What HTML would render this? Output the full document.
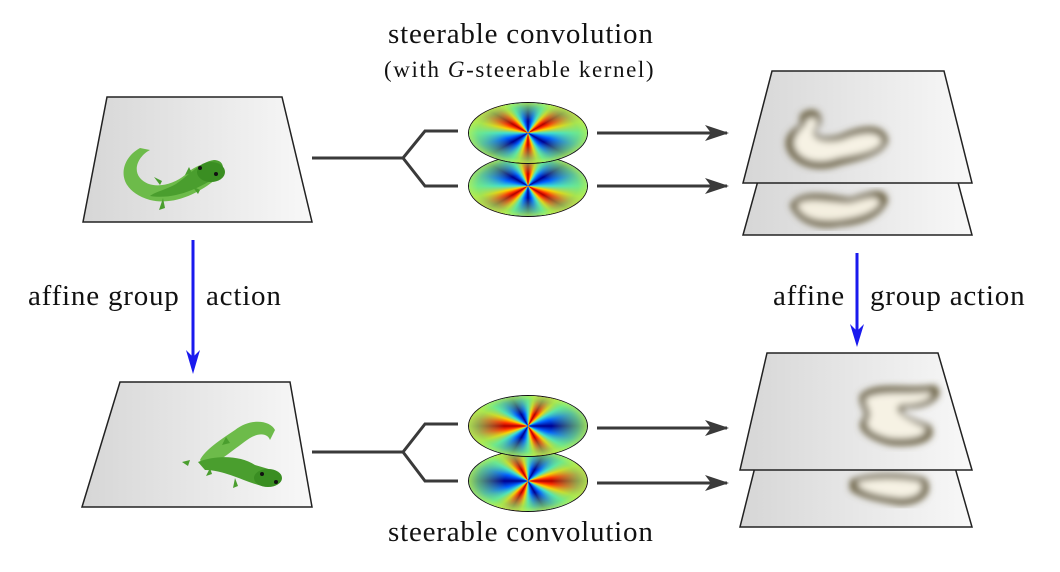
<!DOCTYPE html>
<html><head><meta charset="utf-8"><style>
body{margin:0;width:1060px;height:572px;background:#fff;position:relative;overflow:hidden;font-family:"Liberation Serif",serif;}
.t{position:absolute;font-size:29px;letter-spacing:0.8px;color:#111;white-space:nowrap;}
.k{position:absolute;width:120px;height:62px;border-radius:50%;border:1.5px solid #111;box-sizing:border-box;overflow:hidden;}
.k div{position:absolute;inset:0;}
.k .g{background:radial-gradient(ellipse closest-side,rgba(120,230,120,0) 0%,rgba(120,230,120,0) 40%,rgba(130,235,110,0.7) 85%,rgba(170,240,90,0.9) 100%);}
</style></head><body>
<svg width="1060" height="572" style="position:absolute;left:0;top:0">
<defs>
<linearGradient id="pg" x1="0" y1="0" x2="1" y2="0"><stop offset="0" stop-color="#d6d6d6"/><stop offset="1" stop-color="#f8f8f8"/></linearGradient>
<filter id="bl"><feGaussianBlur stdDeviation="3.5"/></filter>
<marker id="ah" markerWidth="24" markerHeight="16" refX="22" refY="8" orient="auto" markerUnits="userSpaceOnUse"><path d="M0,0 L24,8 L0,16 L6,8z" fill="#3a3a3a"/></marker>
</defs>
<polygon points="107,97 282,97 312,222 83,222" fill="url(#pg)" stroke="#222" stroke-width="1.5"/>
<polygon points="120,382 290,382 312,507 82,507" fill="url(#pg)" stroke="#222" stroke-width="1.5"/>
<!-- lizard top -->
<g fill="#4a9e2e">
<path d="M140,148 C118,160 115,190 150,200 C175,206 200,192 215,180 L222,170 C212,158 195,165 185,175 C172,186 150,190 140,178 C132,168 140,155 150,150Z" fill="#6dbb4a"/>
<path d="M150,196 C175,200 200,188 218,176 C226,170 224,160 214,160 C200,162 188,176 176,184 C165,190 155,192 150,196Z"/>
<ellipse cx="211" cy="172" rx="14" ry="10" fill="#3a8e22"/>
<circle cx="200" cy="168" r="2" fill="#111"/><circle cx="216" cy="174" r="2" fill="#111"/>
<path d="M160,185 l-6,-8 l8,4z M185,175 l4,-8 l3,6z M192,186 l8,4 l-2,4z M163,198 l2,10 l-6,2z"/>
</g>
<!-- lizard bottom -->
<g fill="#4a9e2e">
<path d="M275,430 C270,420 250,418 235,430 C220,440 205,450 200,460 L205,468 C220,462 235,448 250,438 C260,432 268,434 270,440Z" fill="#6dbb4a"/>
<path d="M198,462 C215,455 240,455 255,465 L272,470 C280,480 275,488 262,486 C245,482 225,470 205,470Z"/>
<ellipse cx="268" cy="478" rx="14" ry="9" fill="#3a8e22"/>
<circle cx="262" cy="474" r="2" fill="#111"/><circle cx="276" cy="482" r="2" fill="#111"/>
<path d="M190,460 l-8,2 l6,4z M222,445 l4,-8 l4,6z M235,478 l-2,10 l5,-2z M210,468 l-4,8 l6,-2z"/>
</g>
<!-- right planes top -->
<polygon points="772,130 944,130 972,235 743,235" fill="url(#pg)" stroke="#222" stroke-width="1.5"/>
<g filter="url(#bl)"><path d="M790,205 C800,188 830,195 850,198 C870,192 885,185 888,200 C882,218 860,225 840,226 C820,230 798,225 790,205Z" fill="#6a6040"/><path d="M797,205 C806,196 830,203 850,203 C868,198 878,194 880,203 C873,214 855,218 838,220 C818,222 802,218 797,205Z" fill="#f4efe0"/></g>
<polygon points="772,71 944,71 972,183 743,183" fill="url(#pg)" stroke="#222" stroke-width="1.5"/>
<g filter="url(#bl)"><path d="M800,115 C810,105 825,110 820,125 C810,135 820,140 840,135 C860,125 885,122 888,140 C885,155 860,160 840,165 C820,172 800,168 790,155 C780,140 790,130 800,125Z" fill="#6a6040"/><path d="M806,120 C814,115 820,118 815,128 C808,138 822,145 842,140 C862,132 880,130 882,142 C876,152 858,154 838,158 C818,165 802,160 796,150 C790,140 798,132 806,124Z" fill="#f6f2e4"/></g>
<!-- right planes bottom -->
<polygon points="768,415 940,415 972,527 740,527" fill="url(#pg)" stroke="#222" stroke-width="1.5"/>
<g filter="url(#bl)"><path d="M850,480 C870,472 900,472 925,478 C935,490 925,505 900,505 C880,502 860,498 850,490Z" fill="#6a6040"/><path d="M858,482 C875,478 900,478 920,482 C925,490 918,498 900,498 C880,496 864,492 858,486Z" fill="#f6f2e4"/></g>
<polygon points="767,353 938,353 972,470 740,470" fill="url(#pg)" stroke="#222" stroke-width="1.5"/>
<g filter="url(#bl)"><path d="M860,395 C875,380 905,390 935,385 C948,395 930,410 905,408 C895,412 915,420 930,425 C940,440 920,448 890,445 C870,440 855,430 862,420 C870,412 858,408 860,395Z" fill="#6a6040"/><path d="M866,398 C880,390 905,395 930,392 C935,398 920,405 902,404 C888,410 908,420 925,428 C928,436 912,440 890,438 C874,434 864,428 868,420 C874,412 864,405 866,398Z" fill="#f6f2e4"/></g>
<g stroke="#3a3a3a" stroke-width="3" fill="none">
<polyline points="312,158 403,158 425,131 458,131"/>
<polyline points="403,158 425,186 458,186"/>
<polyline points="312,452 403,452 425,424 458,424"/>
<polyline points="403,452 425,481 458,481"/>
<line x1="597" y1="133" x2="727" y2="133" marker-end="url(#ah)"/>
<line x1="597" y1="186" x2="727" y2="186" marker-end="url(#ah)"/>
<line x1="597" y1="428" x2="727" y2="428" marker-end="url(#ah)"/>
<line x1="597" y1="483" x2="727" y2="483" marker-end="url(#ah)"/>
</g>
<g stroke="#1a1aee" stroke-width="3">
<line x1="193" y1="240" x2="193" y2="366"/>
<line x1="857" y1="253" x2="857" y2="340"/>
</g>
<path d="M193,374 L186,350 L193,357 L200,350Z" fill="#1a1aee"/>
<path d="M857,347 L850,324 L857,331 L864,324Z" fill="#1a1aee"/>
</svg>
<div class="k" style="left:468px;top:155px"><div style="background:repeating-conic-gradient(from 240deg,#b00000 0deg,#ff3000 8deg,#ffd000 18deg,#40e0d0 30deg,#0060ff 44deg,#00008f 60deg,#0060ff 76deg,#40e0d0 90deg,#ffd000 102deg,#ff3000 112deg,#b00000 120deg)"></div><div class="g"></div></div>
<div class="k" style="left:468px;top:102px"><div style="background:repeating-conic-gradient(from 180deg,#b00000 0deg,#ff3000 8deg,#ffd000 18deg,#40e0d0 30deg,#0060ff 44deg,#00008f 60deg,#0060ff 76deg,#40e0d0 90deg,#ffd000 102deg,#ff3000 112deg,#b00000 120deg)"></div><div class="g"></div></div>
<div class="k" style="left:468px;top:450px"><div style="background:repeating-conic-gradient(from 210deg,#b00000 0deg,#ff3000 8deg,#ffd000 18deg,#40e0d0 30deg,#0060ff 44deg,#00008f 60deg,#0060ff 76deg,#40e0d0 90deg,#ffd000 102deg,#ff3000 112deg,#b00000 120deg)"></div><div class="g"></div></div>
<div class="k" style="left:468px;top:395px"><div style="background:repeating-conic-gradient(from 150deg,#b00000 0deg,#ff3000 8deg,#ffd000 18deg,#40e0d0 30deg,#0060ff 44deg,#00008f 60deg,#0060ff 76deg,#40e0d0 90deg,#ffd000 102deg,#ff3000 112deg,#b00000 120deg)"></div><div class="g"></div></div>
<div class="t" style="left:388px;top:18px">steerable convolution</div>
<div class="t" style="left:384px;top:57px;font-size:23px;letter-spacing:1.6px">(with <i>G</i>-steerable kernel)</div>
<div class="t" style="left:28px;top:280px">affine group</div>
<div class="t" style="left:206px;top:280px">action</div>
<div class="t" style="left:773px;top:280px">affine</div>
<div class="t" style="left:870px;top:280px">group action</div>
<div class="t" style="left:388px;top:516px">steerable convolution</div>
</body></html>
